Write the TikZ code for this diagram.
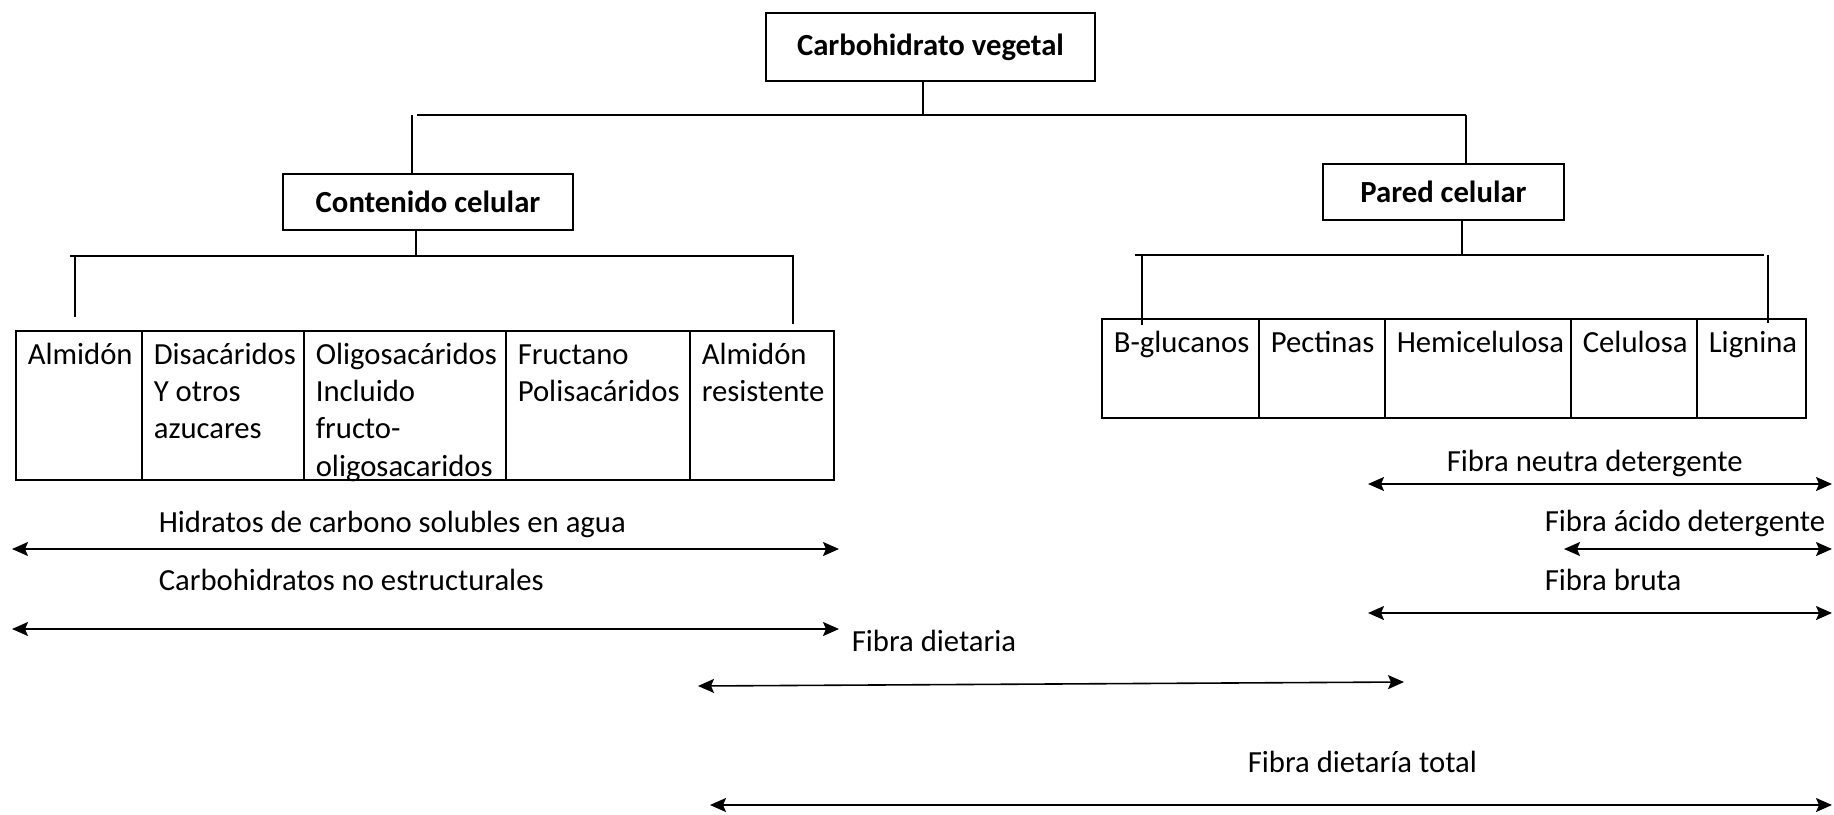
\documentclass[tikz,border=0pt]{standalone}
\usepackage{fontspec}
\setmainfont{Carlito}
\usetikzlibrary{arrows.meta,positioning}

\newcommand{\diagfont}{\fontsize{15.35pt}{18.7pt}\selectfont}
\newcommand{\cl}{\rule{0pt}{14.5pt}}

\tikzset{
  box/.style={draw, line width=0.8pt, font=\diagfont\bfseries, inner sep=0pt, outer sep=0pt},
  cell/.style={draw, line width=0.8pt, inner sep=0pt, outer sep=0pt},
  lcell/.style={cell, minimum height=74.5pt},
  rcell/.style={cell, minimum height=49.5pt},
  celltxt/.style={anchor=north west, align=left, inner xsep=5.5pt, inner ysep=1.6pt},
  lbl/.style={anchor=base west, inner sep=0pt},
  span/.style={{Stealth[length=8pt,width=7pt,inset=1.5pt]}-{Stealth[length=8pt,width=7pt,inset=1.5pt]}, line width=0.8pt},
}

\begin{document}
\begin{tikzpicture}[x=0.5pt, y=-0.5pt, line width=0.8pt, font=\diagfont]
  \useasboundingbox (0,0) rectangle (1834,814);

  % main boxes
  \node[box, minimum width=164.5pt, minimum height=34pt] (top) at (930.5,47) {Carbohidrato vegetal};
  \node[box, minimum width=145pt, minimum height=28pt] (cont) at (428,202) {Contenido celular};
  \node[box, minimum width=120.5pt, minimum height=28pt] (pared) at (1443.5,192) {Pared celular};

  \coordinate (b1l) at (417,115);
  \coordinate (b1r) at (1466,115);
  \coordinate (j1) at (923,115);
  \coordinate (j2) at (412,115);
  \draw (b1l) -- (b1r);
  \draw (j1) -- (j1 |- top.south);
  \draw (j2) -- (j2 |- cont.north);
  \draw (b1r) -- (b1r |- pared.north);

  % contenido celular
  \node[lcell, minimum width=63pt, anchor=north west] (alm) at (16,331) {};
  \node[lcell, minimum width=81pt, right=0pt of alm] (disa) {};
  \node[lcell, minimum width=101pt, right=0pt of disa] (olig) {};
  \node[lcell, minimum width=92pt, right=0pt of olig] (fruc) {};
  \node[lcell, minimum width=72pt, right=0pt of fruc] (almr) {};

  \node[celltxt] (t-alm) at (alm.north west) {\cl Almidón};
  \node[celltxt] (t-disa) at (disa.north west) {\cl Disacáridos\\Y otros\\azucares};
  \node[celltxt] (t-olig) at (olig.north west) {\cl Oligosacáridos\\Incluido\\fructo-\\oligosacaridos};
  \node[celltxt] (t-fruc) at (fruc.north west) {\cl Fructano\\Polisacáridos};
  \node[celltxt] (t-almr) at (almr.north west) {\cl Almidón\\resistente};

  \coordinate (b2l) at (70,256);
  \coordinate (b2r) at (794,256);
  \coordinate (j3) at (416,256);
  \coordinate (d2a) at (75,317);
  \coordinate (d2b) at (793,324);
  \draw (b2l) -- (b2r);
  \draw (j3) -- (j3 |- cont.south);
  \draw (d2a |- b2l) -- (d2a);
  \draw (d2b |- b2l) -- (d2b);

  % pared celular
  \node[rcell, minimum width=78.5pt, anchor=north west] (bglu) at (1102,319) {};
  \node[rcell, minimum width=63pt, right=0pt of bglu] (pect) {};
  \node[rcell, minimum width=93pt, right=0pt of pect] (hemi) {};
  \node[rcell, minimum width=63pt, right=0pt of hemi] (celu) {};
  \node[rcell, minimum width=54.5pt, right=0pt of celu] (lign) {};

  \node[celltxt] (t-bglu) at (bglu.north west) {\cl B-glucanos};
  \node[celltxt] (t-pect) at (pect.north west) {\cl Pectinas};
  \node[celltxt] (t-hemi) at (hemi.north west) {\cl Hemicelulosa};
  \node[celltxt] (t-celu) at (celu.north west) {\cl Celulosa};
  \node[celltxt] (t-lign) at (lign.north west) {\cl Lignina};

  \coordinate (b3l) at (1135,255);
  \coordinate (b3r) at (1764,255);
  \coordinate (j4) at (1462,255);
  \coordinate (d3a) at (1142,325);
  \coordinate (d3b) at (1768,323);
  \draw (b3l) -- (b3r);
  \draw (j4) -- (j4 |- pared.south);
  \draw (d3a |- b3l) -- (d3a);
  \draw (d3b |- b3l) -- (d3b);

  % fracciones
  \node[lbl] (fnd) at (1446,471) {Fibra neutra detergente};
  \coordinate (fnd-a) at (1368,484);
  \coordinate (fnd-b) at (1832,484);
  \draw[span] (fnd-a) -- (fnd-b);

  \node[lbl] (fad) at (1544,531) {Fibra ácido detergente};
  \coordinate (fad-a) at (1564,549);
  \coordinate (fad-b) at (1832,549);
  \draw[span] (fad-a) -- (fad-b);

  \node[lbl] (fb) at (1544,590) {Fibra bruta};
  \coordinate (fb-a) at (1368,613);
  \coordinate (fb-b) at (1832,613);
  \draw[span] (fb-a) -- (fb-b);

  \node[lbl] (hcs) at (158,532) {Hidratos de carbono solubles en agua};
  \coordinate (hcs-a) at (12,549);
  \coordinate (hcs-b) at (839,549);
  \draw[span] (hcs-a) -- (hcs-b);

  \node[lbl] (cne) at (158,590) {Carbohidratos no estructurales};
  \coordinate (cne-a) at (12,629);
  \coordinate (cne-b) at (839,629);
  \draw[span] (cne-a) -- (cne-b);

  \node[lbl] (fd) at (851,651) {Fibra dietaria};
  \coordinate (fd-a) at (698,686);
  \coordinate (fd-b) at (1404,682);
  \draw[span] (fd-a) -- (fd-b);

  \node[lbl] (fdt) at (1247,772) {Fibra dietaría total};
  \coordinate (fdt-a) at (710,805);
  \coordinate (fdt-b) at (1832,805);
  \draw[span] (fdt-a) -- (fdt-b);
\end{tikzpicture}
\end{document}
